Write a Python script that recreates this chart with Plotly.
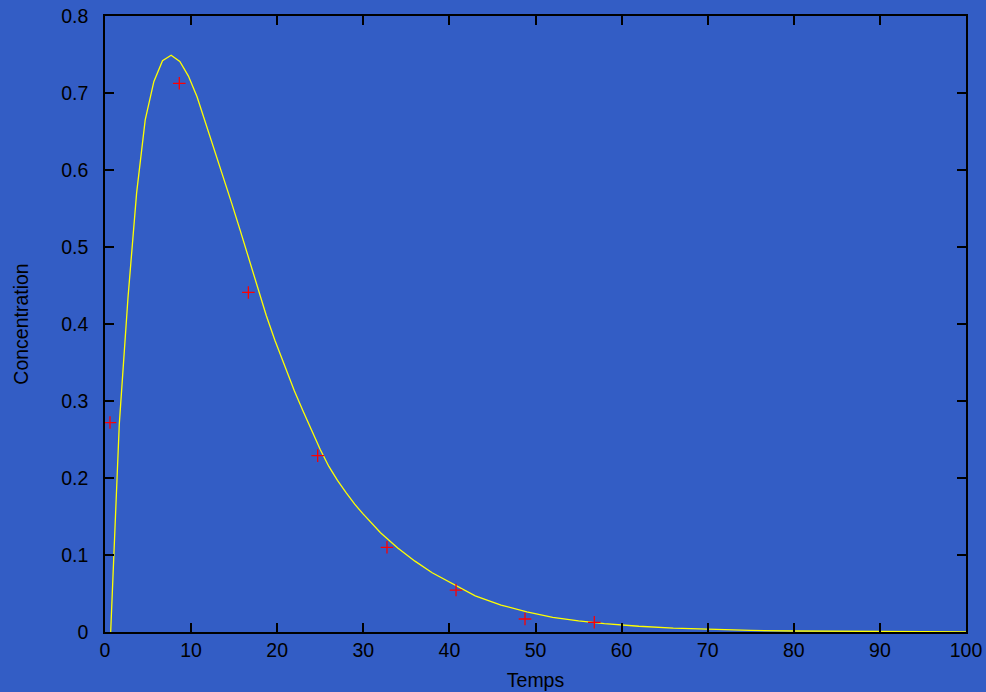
import plotly.graph_objects as go

# Measured data points (red crosses)
data_t = [0.58, 8.63, 16.65, 24.7, 32.75, 40.77, 48.78, 56.83]
data_c = [0.272, 0.7126, 0.441, 0.229, 0.110, 0.0545, 0.0169, 0.0126]

# Model curve (yellow line)
curve_t = [0.66, 1.66, 2.67, 3.67, 4.67, 5.68, 6.68, 7.68, 8.69, 9.69, 10.69,
           11.70, 12.70, 13.71, 14.71, 15.72, 16.72, 17.72, 18.73, 19.73,
           21, 22, 23, 24, 25, 26, 27, 28, 29, 30, 32, 34, 36, 38, 40, 43, 46,
           49, 52, 55, 58, 62, 66, 70, 75, 80, 85, 90, 95, 100]
curve_c = [0, 0.27, 0.434, 0.57, 0.665, 0.715, 0.742, 0.749, 0.741, 0.722, 0.695,
           0.661, 0.625, 0.591, 0.557, 0.521, 0.485, 0.449, 0.411, 0.379,
           0.342, 0.313, 0.287, 0.261, 0.237, 0.215, 0.197, 0.181, 0.166, 0.153,
           0.129, 0.109, 0.092, 0.077, 0.065, 0.047, 0.035, 0.026, 0.019, 0.0145,
           0.011, 0.0075, 0.005, 0.0034, 0.0021, 0.0013, 0.0008, 0.0005, 0.0003,
           0.0002]

x_ticks = [0, 10, 20, 30, 40, 50, 60, 70, 80, 90, 100]
y_ticks = [0, 0.1, 0.2, 0.3, 0.4, 0.5, 0.6, 0.7, 0.8]

BG = "#335dc5"
FONT = "Liberation Sans, Arial, sans-serif"
FS = 19.5

fig = go.Figure()
fig.add_trace(go.Scatter(x=curve_t, y=curve_c, mode="lines",
                         line=dict(color="#ffff00", width=1.3),
                         showlegend=False, hoverinfo="skip"))
fig.add_trace(go.Scatter(x=data_t, y=data_c, mode="markers",
                         marker=dict(symbol="cross-thin", size=9,
                                     line=dict(color="#ff0000", width=1.3)),
                         showlegend=False))

axis_common = dict(showgrid=False, zeroline=False, showline=True,
                   linecolor="black", linewidth=1.5, mirror="ticks",
                   ticks="inside", ticklen=9, tickwidth=1.5, tickcolor="black",
                   automargin=False,
                   tickfont=dict(family=FONT, size=FS, color="black"))

fig.update_layout(
    width=986, height=692,
    paper_bgcolor=BG, plot_bgcolor=BG,
    margin=dict(l=105, r=20, t=16, b=60),
    xaxis=dict(range=[0, 100], tickvals=x_ticks,
               ticktext=[str(v) for v in x_ticks],
               title=dict(text="Temps", font=dict(family=FONT, size=FS, color="black"),
                          standoff=13),
               **axis_common),
    yaxis=dict(range=[0, 0.8], tickvals=y_ticks,
               ticktext=["0" if v == 0 else f"{v:g}" for v in y_ticks],
               ticklabelstandoff=11,
               title=dict(text="Concentration", font=dict(family=FONT, size=FS, color="black"),
                          standoff=27),
               **axis_common),
)

fig.write_html("out.html")
